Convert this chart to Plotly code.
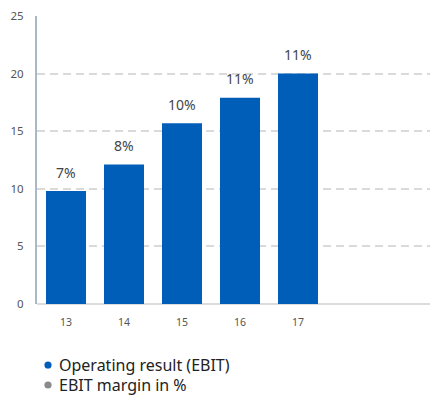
import plotly.graph_objects as go

years = [13, 14, 15, 16, 17]
ebit = [9.8, 12.1, 15.7, 17.9, 20.0]
margin_pct = [7, 8, 10, 11, 11]
y_ticks = [0, 5, 10, 15, 20, 25]
legend_names = ["Operating result (EBIT)", "EBIT margin in %"]
legend_colors = ["#005EB8", "#8a8a8a"]

BLUE = "#005EB8"
FONT = "Noto Sans"

fig = go.Figure()
fig.add_trace(go.Bar(
    x=years, y=ebit, width=0.69,
    marker=dict(color=BLUE, line=dict(width=0)),
    showlegend=False, hoverinfo="skip",
))

annotations = []
for xv, yv, m in zip(years, ebit, margin_pct):
    annotations.append(dict(
        x=xv, y=yv, xref="x", yref="y", text=f"{m}%", showarrow=False,
        yanchor="middle", xanchor="center", yshift=19,
        font=dict(family=FONT, size=14, color="#444444"),
    ))

# custom legend
shapes = []
leg_y = [-0.2118, -0.2812]
for name, col, ly in zip(legend_names, legend_colors, leg_y):
    shapes.append(dict(
        type="circle", xref="paper", yref="paper",
        xsizemode="pixel", ysizemode="pixel",
        xanchor=(48 - 37) / 393, yanchor=ly,
        x0=-3.6, x1=3.6, y0=-3.6, y1=3.6,
        fillcolor=col, line=dict(width=0),
    ))
    annotations.append(dict(
        x=(57 - 37) / 393, y=ly, xref="paper", yref="paper", text=name,
        showarrow=False, xanchor="left", yanchor="middle",
        font=dict(family=FONT, size=16, color="#222222"),
    ))

fig.update_layout(
    width=430, height=397,
    margin=dict(l=37, r=0, t=16, b=93, autoexpand=False),
    paper_bgcolor="white", plot_bgcolor="white",
    font=dict(family=FONT, color="#555555"),
    annotations=annotations, shapes=shapes,
    showlegend=False,
    bargap=0.3,
)
fig.update_xaxes(
    range=[12.5, 19.276], tickvals=years, ticktext=[str(y) for y in years],
    showgrid=False, zeroline=False, showline=False,
    ticks="outside", ticklen=8, tickcolor="rgba(0,0,0,0)",
    tickfont=dict(family=FONT, size=10.5, color="#555555"),
    automargin=False,
)
fig.update_yaxes(
    range=[0, 25], tickvals=y_ticks,
    showgrid=True, gridcolor="#dadada", gridwidth=1.5, griddash="8px,5px",
    zeroline=True, zerolinecolor="#dcdcdc", zerolinewidth=2,
    showline=True, linecolor="#a9b7c6", linewidth=2,
    ticks="outside", ticklen=9, tickcolor="rgba(0,0,0,0)",
    tickfont=dict(family=FONT, size=11.5, color="#555555"),
    automargin=False,
)

fig.write_html(
    "out.html",
    config={"displayModeBar": False},
    post_script="document.body.style.margin='0';document.body.style.overflow='hidden';",
)
